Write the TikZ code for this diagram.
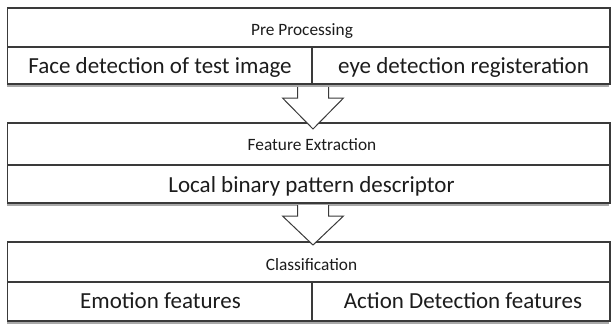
\documentclass[tikz,border=0pt]{standalone}
\usepackage{fontspec}
\setmainfont{Carlito}
\usetikzlibrary{shadows,calc}
\definecolor{edge}{HTML}{3A3A3A}
\definecolor{ink}{HTML}{1C1C1C}
\begin{document}
\begin{tikzpicture}[x=1pt,y=-1pt,
  cell/.style={draw=edge, line width=1.1pt, fill=white, inner sep=0pt, outer sep=0pt},
  blockshadow/.style={fill=white, drop shadow={shadow xshift=-0.7pt, shadow yshift=-2.6pt, opacity=0.45, fill=black!75}},
  bigtxt/.style={font=\fontsize{23}{27}\selectfont, text=ink, inner sep=0pt, anchor=base},
  smalltxt/.style={font=\fontsize{17.3}{20}\selectfont, text=ink, inner sep=0pt, anchor=base},
  arrowline/.style={draw=edge, line width=1pt, line join=miter}
]
\useasboundingbox (0,0) rectangle (612,324);

% block 1: pre processing
\path[blockshadow] (7.5,8) rectangle (610,84);
\node[cell, minimum width=602.5pt, minimum height=39pt] (preHead) at (308.75,27.5) {};
\node[cell, minimum width=304.5pt, minimum height=37pt] (preL) at (159.75,65.5) {};
\node[cell, minimum width=298pt, minimum height=37pt] (preR) at (461,65.5) {};
\node[smalltxt] (preT) at (302,35) {Pre Processing};
\node[bigtxt] (preLT) at (160,73) {Face detection of test image};
\node[bigtxt] (preRT) at (463.5,73) {eye detection registeration};

% block 2: feature extraction
\path[blockshadow] (7.5,123) rectangle (610,203);
\node[cell, minimum width=602.5pt, minimum height=42pt] (featHead) at (308.75,144) {};
\node[cell, minimum width=602.5pt, minimum height=38pt] (featRow) at (308.75,184) {};
\node[smalltxt] (featT) at (312,150.7) {Feature Extraction};
\node[bigtxt] (featRT) at (311.5,192) {Local binary pattern descriptor};

% block 3: classification
\path[blockshadow] (7.5,242) rectangle (610,321);
\node[cell, minimum width=602.5pt, minimum height=40pt] (clsHead) at (308.75,262) {};
\node[cell, minimum width=304.5pt, minimum height=39pt] (clsL) at (159.75,301.5) {};
\node[cell, minimum width=298pt, minimum height=39pt] (clsR) at (461,301.5) {};
\node[smalltxt] (clsT) at (311.5,270) {Classification};
\node[bigtxt] (clsLT) at (160.5,308.5) {Emotion features};
\node[bigtxt] (clsRT) at (463,308.5) {Action Detection features};

% block arrows between the stages
\coordinate (a1top) at (313,87);
\coordinate (a1tip) at (313,129);
\coordinate (a2top) at (313,205);
\coordinate (a2tip) at (313,245);
\foreach \t/\p in {a1top/a1tip, a2top/a2tip}{
  \fill[white] ($(\t)+(-15.5,0)$) -- ($(\t)+(-15.5,11)$) -- ($(\t)+(-30.5,11)$) -- (\p)
     -- ($(\t)+(30.5,11)$) -- ($(\t)+(15.5,11)$) -- ($(\t)+(15.5,0)$) -- cycle;
  \draw[arrowline] ($(\t)+(-15.5,0)$) -- ($(\t)+(-15.5,11)$) -- ($(\t)+(-30.5,11)$) -- (\p)
     -- ($(\t)+(30.5,11)$) -- ($(\t)+(15.5,11)$) -- ($(\t)+(15.5,0)$);
}
\end{tikzpicture}
\end{document}
